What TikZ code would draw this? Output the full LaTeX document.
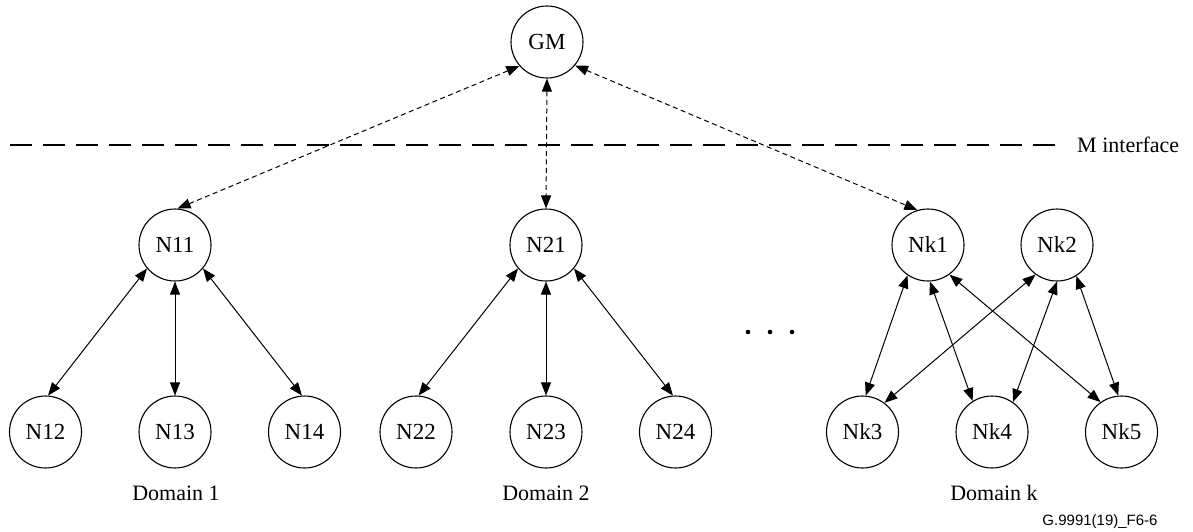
\documentclass[tikz,border=0pt]{standalone}
\usepackage{fontspec}
\setmainfont{Liberation Serif}
\newfontfamily\figsans{Liberation Sans}
\usetikzlibrary{arrows.meta}
\begin{document}
\begin{tikzpicture}[x=1pt,y=-1pt,
  >={Triangle[length=13pt,width=10pt]},
  nd/.style={circle,draw,line width=1.1pt,minimum size=72pt,inner sep=0pt,font=\fontsize{23}{27}\selectfont},
  lbl/.style={font=\fontsize{22}{26}\selectfont,inner sep=0pt},
  biarrow/.style={line width=1pt,<->},
  dasharrow/.style={line width=1pt,dash pattern=on 5pt off 3.5pt,<->},
  minterface/.style={line width=1.8pt,dash pattern=on 22pt off 11pt}
]
\useasboundingbox (0,0) rectangle (1193,531);
% nodes
\node[nd] (GM) at (547,42) {GM};
\node[nd] (N11) at (175,245) {N11};
\node[nd] (N21) at (546,245) {N21};
\node[nd] (Nk1) at (928,245) {Nk1};
\node[nd] (Nk2) at (1057,245) {Nk2};
\node[nd] (N12) at (45.5,432) {N12};
\node[nd] (N13) at (175,432) {N13};
\node[nd] (N14) at (304.5,432) {N14};
\node[nd] (N22) at (416,432) {N22};
\node[nd] (N23) at (546,432) {N23};
\node[nd] (N24) at (675.5,432) {N24};
\node[nd] (Nk3) at (862.5,432) {Nk3};
\node[nd] (Nk4) at (992,432) {Nk4};
\node[nd] (Nk5) at (1121.5,432) {Nk5};
% M interface
\coordinate (mL) at (10,145);
\coordinate (mR) at (1062,145);
\draw[minterface] (mL) -- (mR);
\node[lbl,anchor=west] (mi) at (1077,145) {M interface};
% dashed connectors to GM
\draw[dasharrow] (GM.221) -- (N11.86);
\draw[dasharrow] (GM.270) -- (N21.90);
\draw[dasharrow] (GM.320) -- (Nk1.107);
% domain 1
\draw[biarrow] (N11.220) -- (N12.86);
\draw[biarrow] (N11.270) -- (N13.90);
\draw[biarrow] (N11.320) -- (N14.94);
% domain 2
\draw[biarrow] (N21.220) -- (N22.86);
\draw[biarrow] (N21.270) -- (N23.90);
\draw[biarrow] (N21.320) -- (N24.94);
% domain k
\draw[biarrow] (Nk1.236) -- (Nk3.85);
\draw[biarrow] (Nk1.273) -- (Nk4.122);
\draw[biarrow] (Nk1.306) -- (Nk5.125);
\draw[biarrow] (Nk2.234) -- (Nk3.53);
\draw[biarrow] (Nk2.270) -- (Nk4.55);
\draw[biarrow] (Nk2.302) -- (Nk5.95);
% dots
\fill (748,332) circle (2.3pt);
\fill (770,332) circle (2.3pt);
\fill (792,332) circle (2.3pt);
% labels
\node[lbl] (d1) at (176,493) {Domain 1};
\node[lbl] (d2) at (546,493) {Domain 2};
\node[lbl] (dk) at (994,493) {Domain k};
\node[font=\figsans\fontsize{15}{18}\selectfont,inner sep=0pt] (fig) at (1100,522) {G.9991(19)\_F6-6};
\end{tikzpicture}
\end{document}
